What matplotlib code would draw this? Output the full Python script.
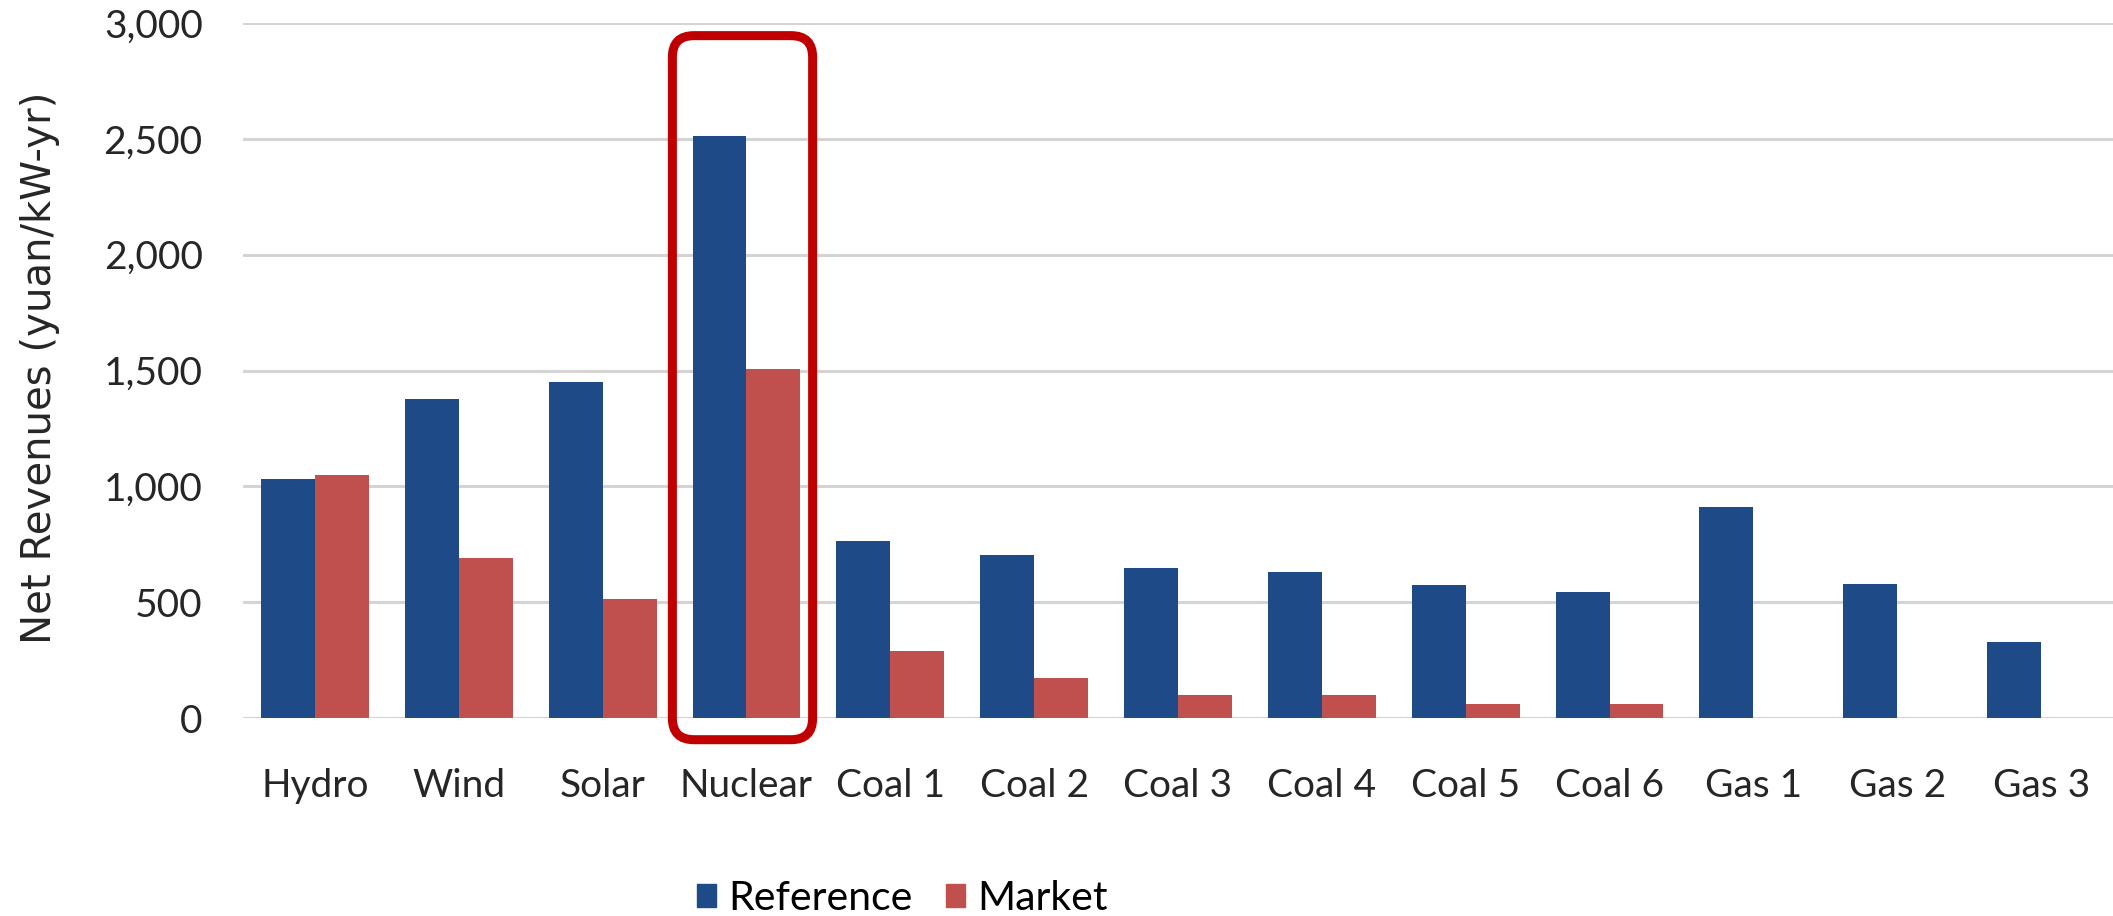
import matplotlib
matplotlib.use("Agg")
import matplotlib.pyplot as plt
import numpy as np
from matplotlib.patches import FancyBboxPatch, Patch

categories = ["Hydro", "Wind", "Solar", "Nuclear", "Coal 1", "Coal 2", "Coal 3",
              "Coal 4", "Coal 5", "Coal 6", "Gas 1", "Gas 2", "Gas 3"]
reference_vals = [1030, 1375, 1450, 2510, 765, 705, 650, 630, 575, 545, 910, 580, 330]
market_vals = [1050, 690, 515, 1505, 290, 172, 100, 100, 62, 62, 0, 0, 0]
y_ticks = [0, 500, 1000, 1500, 2000, 2500, 3000]
series_names = ["Reference", "Market"]

BLUE = "#1F4A88"
RED = "#C0504D"
TXT = "#262626"

plt.rcParams['font.family'] = ['Lato', 'DejaVu Sans']

fig = plt.figure(figsize=(21.13, 9.16), dpi=100)
ax = fig.add_axes([0.115, 0.216, 0.885, 0.759])

x = np.arange(len(categories))
w = 0.375
ax.bar(x - w / 2, reference_vals, width=w, color=BLUE, zorder=3)
ax.bar(x + w / 2, market_vals, width=w, color=RED, zorder=3)

ax.set_xlim(-0.5, len(categories) - 0.5)
ax.set_ylim(0, 3000)
ax.set_yticks(y_ticks)
ax.set_yticklabels([f"{v:,}" for v in y_ticks], fontsize=28, color=TXT)
ax.set_xticks(x)
ax.set_xticklabels(categories, fontsize=28, color=TXT)
ax.tick_params(axis="both", length=0)
ax.tick_params(axis="y", pad=29)
ax.tick_params(axis="x", pad=36)
ax.yaxis.grid(True, color="#D4D4D4", linewidth=2.2, zorder=0)
ax.set_axisbelow(True)
for s in ax.spines.values():
    s.set_visible(False)

ax.set_ylabel("Net Revenues (yuan/kW-yr)", fontsize=29, color=TXT,
              family=['DejaVu Sans'])
ax.yaxis.set_label_coords(-0.098, 0.504)

# highlight box around Nuclear
box = FancyBboxPatch((3 - 0.515, -93), 0.975, 3038,
                     boxstyle="round,pad=0,rounding_size=0.15",
                     mutation_aspect=620,
                     fill=False, edgecolor="#C00000", linewidth=6.5,
                     clip_on=False, zorder=5)
ax.add_patch(box)

handles = [Patch(color=BLUE, label=series_names[0]), Patch(color=RED, label=series_names[1])]
fig.legend(handles=handles, loc="center", bbox_to_anchor=(0.427, 0.019),
           ncol=2, frameon=False, fontsize=29.5, handlelength=0.47, handleheight=0.47,
           handletextpad=0.3, columnspacing=0.8, borderpad=0)

fig.savefig("out.png", dpi=100, facecolor="white")
